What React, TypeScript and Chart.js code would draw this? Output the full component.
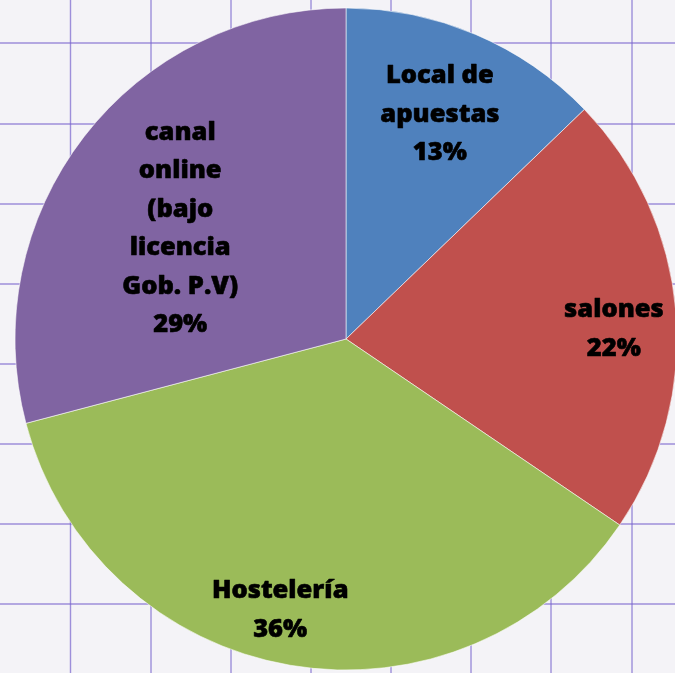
import React, { useEffect, useRef } from "react";
import { Chart, registerables } from "chart.js";

Chart.register(...registerables);

const categories = ["Local de apuestas", "salones", "Hostelería", "canal online (bajo licencia Gob. P.V)"];
const labelLines = [["Local de", "apuestas"], ["salones"], ["Hostelería"], ["canal", "online", "(bajo", "licencia", "Gob. P.V)"]];
const shares = [12.8, 21.7, 36.4, 29.1];
const colors = ["#4F81BD", "#C0504D", "#9BBB59", "#8064A2"];

// label placement (layout only)
const labelRadiusFactor = [0.74, 0.81, 0.838, 0.605];
const labelAngleShiftDeg = [-0.5, 2.4, 4.0, -3.5];

const GRID_X = [70.5, 151, 231, 311, 391, 471, 551, 632];
const GRID_Y = [43, 124, 204, 284, 364, 444, 524, 604];

const FONT_SIZE = 25.5;
const LINE_H = 38.5;

const paperPlugin = {
  id: "paper",
  beforeDraw(chart: any) {
    const ctx = chart.ctx;
    ctx.save();
    ctx.fillStyle = "#F4F3F7";
    ctx.fillRect(0, 0, chart.width, chart.height);
    ctx.strokeStyle = "rgba(120,100,205,0.7)";
    ctx.lineWidth = 1.4;
    for (const x of GRID_X) {
      ctx.beginPath();
      ctx.moveTo(x, 0);
      ctx.lineTo(x, chart.height);
      ctx.stroke();
    }
    for (const y of GRID_Y) {
      ctx.beginPath();
      ctx.moveTo(0, y);
      ctx.lineTo(chart.width, y);
      ctx.stroke();
    }
    ctx.restore();
  },
};

const labelPlugin = {
  id: "sliceLabels",
  afterDatasetsDraw(chart: any) {
    const ctx = chart.ctx;
    const meta = chart.getDatasetMeta(0);
    const data = chart.data.datasets[0].data as number[];
    const total = data.reduce((a, b) => a + b, 0);
    ctx.save();
    ctx.font = `800 ${FONT_SIZE}px "Open Sans", sans-serif`;
    ctx.fillStyle = "#000";
    ctx.strokeStyle = "#000";
    ctx.lineWidth = 0.6;
    ctx.lineJoin = "round";
    ctx.textAlign = "center";
    ctx.textBaseline = "alphabetic";
    const capH = FONT_SIZE * 0.714;
    meta.data.forEach((arc: any, i: number) => {
      const a = (arc.startAngle + arc.endAngle) / 2 + (labelAngleShiftDeg[i] * Math.PI) / 180;
      const r = arc.outerRadius * labelRadiusFactor[i];
      const cx = arc.x + r * Math.cos(a);
      const cy = arc.y + r * Math.sin(a);
      const lines = [...labelLines[i], Math.round((data[i] / total) * 100) + "%"];
      const totalH = capH + (lines.length - 1) * LINE_H;
      const top = cy - totalH / 2;
      lines.forEach((ln, j) => {
        const y = top + capH + j * LINE_H;
        ctx.fillText(ln, cx, y);
        ctx.strokeText(ln, cx, y);
      });
    });
    ctx.restore();
  },
};

export default function App() {
  const ref = useRef<HTMLCanvasElement>(null);
  useEffect(() => {
    if (!ref.current) return;
    const chart = new Chart(ref.current, {
      type: "pie",
      data: {
        labels: categories,
        datasets: [
          {
            data: shares,
            backgroundColor: colors,
            borderColor: "rgba(255,255,255,0.7)",
            borderWidth: 0.8,
          },
        ],
      },
      options: {
        responsive: false,
        animation: false,
        radius: 331,
        layout: { padding: 0 },
        plugins: {
          legend: { display: false },
          tooltip: { enabled: false },
        },
      },
      plugins: [paperPlugin, labelPlugin],
    });
    return () => chart.destroy();
  }, []);
  return (
    <div
      style={{
        position: "fixed",
        left: 0,
        top: 0,
        width: 675,
        height: 673,
        overflow: "hidden",
        background: "#F4F3F7",
      }}
    >
      <canvas ref={ref} width={692} height={678} style={{ display: "block", width: 692, height: 678 }} />
    </div>
  );
}
